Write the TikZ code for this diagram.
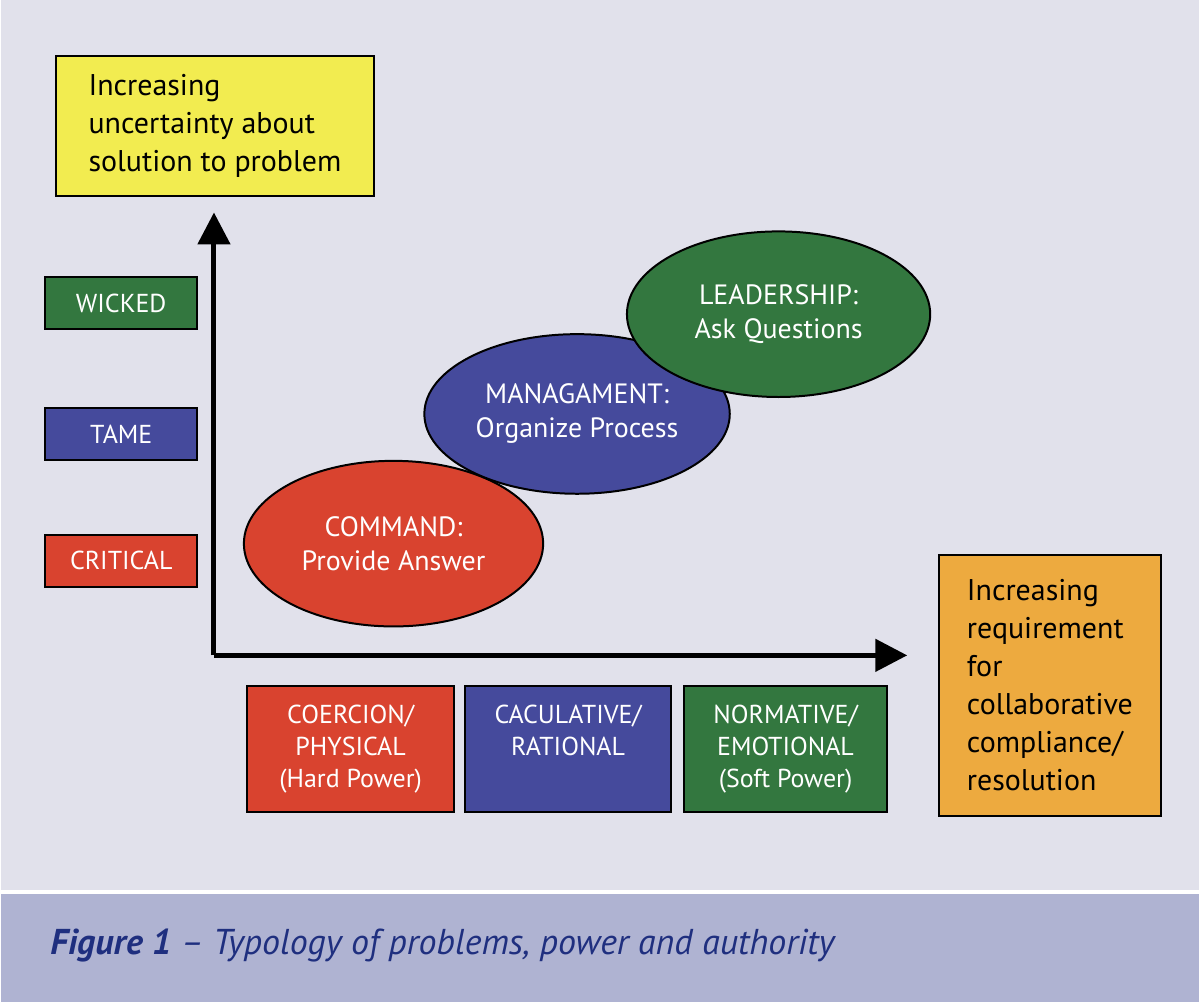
\documentclass[tikz,border=0pt]{standalone}
\usepackage{fontspec}
\setmainfont{PT Sans}
\usetikzlibrary{arrows.meta}
\definecolor{bgc}{HTML}{E1E1EB}
\definecolor{capc}{HTML}{AFB3D2}
\definecolor{redc}{HTML}{D9432F}
\definecolor{bluec}{HTML}{454A9C}
\definecolor{greenc}{HTML}{33773F}
\definecolor{yellowc}{HTML}{F2EC50}
\definecolor{orangec}{HTML}{EDAA3F}
\definecolor{navy}{HTML}{1F2F7F}
\tikzset{
  box/.style={draw=black,line width=1pt,text=white,align=center,font=\fontsize{13}{16}\selectfont},
  blob/.style={draw=black,line width=1pt,ellipse,text=white,align=center,font=\fontsize{14}{17}\selectfont},
  axis/.style={line width=2.5pt,-{Triangle[length=16pt,width=16pt]}}
}
\usetikzlibrary{shapes.geometric}
\begin{document}
\begin{tikzpicture}[x=0.5pt,y=-0.5pt]
  \fill[bgc] (0,0) rectangle (1200,893);
  \fill[capc] (0,896) rectangle (1200,1004);
  \draw[white,line width=1.5pt] (0,894) -- (1200,894);
  \useasboundingbox (0,0) rectangle (1200,1004);
  % axes
  \coordinate (o) at (213,657);
  \coordinate (ytip) at (213,213);
  \coordinate (xtip) at (908,657);
  \draw[axis] (o) -- (ytip);
  \draw[axis] (o) -- (xtip);
  % axis titles
  \node[box,fill=yellowc,text=black,align=left,minimum width=159pt,minimum height=70pt,font=\fontsize{15}{19}\selectfont] (ytitle) at (214,126)
    {Increasing\\uncertainty about\\solution to problem};
  \node[box,fill=orangec,text=black,align=left,minimum width=111pt,minimum height=131pt,font=\fontsize{15}{19}\selectfont] (xtitle) at (1051,687)
    {Increasing\\requirement\\for\\collaborative\\compliance/\\resolution};
  % problem types
  \node[box,fill=greenc,minimum width=76pt,minimum height=26pt] (wicked) at (120,304) {WICKED};
  \node[box,fill=bluec,minimum width=76pt,minimum height=26pt] (tame) at (120,435) {TAME};
  \node[box,fill=redc,minimum width=76pt,minimum height=26pt] (critical) at (120,562) {CRITICAL};
  % power types
  \node[box,fill=redc,minimum width=104pt,minimum height=63pt] (coercion) at (350,751) {COERCION/\\PHYSICAL\\(Hard Power)};
  \node[box,fill=bluec,minimum width=103pt,minimum height=63pt] (calc) at (568,751) {CACULATIVE/\\RATIONAL\\\phantom{(}};
  \node[box,fill=greenc,minimum width=102pt,minimum height=63pt] (norm) at (786,751) {NORMATIVE/\\EMOTIONAL\\(Soft Power)};
  % authority
  \node[blob,fill=redc,minimum width=150pt,minimum height=83pt] (command) at (393,545) {COMMAND:\\Provide Answer};
  \node[blob,fill=bluec,minimum width=148pt,minimum height=80pt] (manage) at (577,415) {MANAGAMENT:\\Organize Process};
  \node[blob,fill=greenc,minimum width=152pt,minimum height=83pt] (lead) at (779,315) {LEADERSHIP:\\Ask Questions};
  % caption
  \node[anchor=west,text=navy,font=\fontsize{18}{22}\selectfont\itshape] (caption) at (42,948)
    {\textbf{Figure 1} -- Typology of problems, power and authority};
\end{tikzpicture}
\end{document}
